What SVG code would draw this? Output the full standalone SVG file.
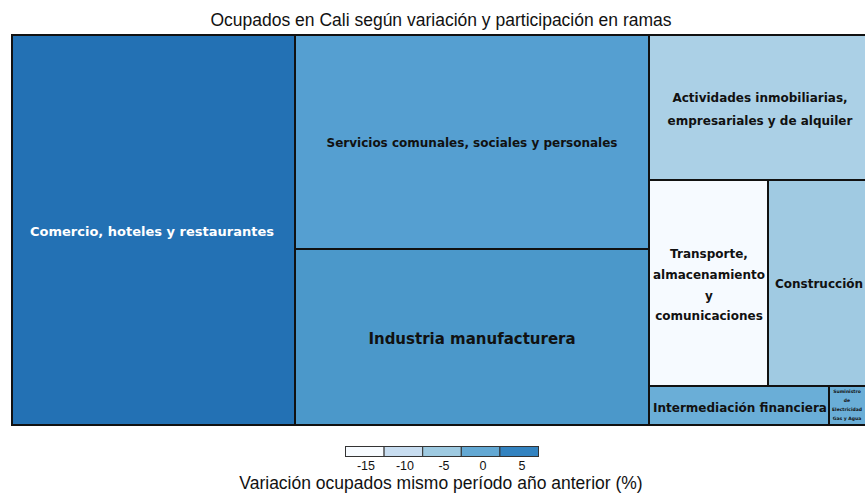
<svg xmlns="http://www.w3.org/2000/svg" width="865" height="494" viewBox="0 0 865 494">
<style>
.cell{stroke:#111;stroke-width:2}
.lb{font-family:"DejaVu Sans",Verdana,sans-serif;font-weight:bold;text-anchor:middle;fill:#111}
.tx{font-family:"Liberation Sans",Arial,sans-serif;text-anchor:middle;fill:#111}
.leg{stroke:#333;stroke-width:1}
</style>
<rect width="865" height="494" fill="#fff"/>
<text class="tx" x="441" y="26" font-size="17.5">Ocupados en Cali según variación y participación en ramas</text>
<g id="comercio">
<rect class="cell" x="12" y="35" width="283" height="390" fill="#2371b4"/>
<text class="lb" x="152" y="236" font-size="13" style="fill:#fff">Comercio, hoteles y restaurantes</text>
</g>
<g id="servicios">
<rect class="cell" x="295" y="35" width="354" height="214" fill="#559fd1"/>
<text class="lb" x="472" y="147" font-size="12">Servicios comunales, sociales y personales</text>
</g>
<g id="industria">
<rect class="cell" x="295" y="249" width="354" height="176" fill="#4b98ca"/>
<text class="lb" x="472" y="344" font-size="15">Industria manufacturera</text>
</g>
<g id="actividades">
<rect class="cell" x="649" y="35" width="220" height="145" fill="#abd0e6"/>
<text class="lb" x="760" y="102" font-size="12">Actividades inmobiliarias,</text>
<text class="lb" x="760" y="125" font-size="12">empresariales y de alquiler</text>
</g>
<g id="transporte">
<rect class="cell" x="649" y="180" width="119" height="206" fill="#f6faff"/>
<text class="lb" x="709" y="258" font-size="12">Transporte,</text>
<text class="lb" x="709" y="279" font-size="12">almacenamiento</text>
<text class="lb" x="709" y="300" font-size="12">y</text>
<text class="lb" x="709" y="320" font-size="12">comunicaciones</text>
</g>
<g id="construccion">
<rect class="cell" x="768" y="180" width="101" height="206" fill="#a0cae2"/>
<text class="lb" x="819" y="288" font-size="12">Construcción</text>
</g>
<g id="intermediacion">
<rect class="cell" x="649" y="386" width="180" height="39" fill="#6aaed7"/>
<text class="lb" x="740" y="412" font-size="12">Intermediación financiera</text>
</g>
<g id="suministro">
<rect class="cell" x="829" y="386" width="40" height="39" fill="#6aaed7"/>
<text class="lb" x="847" y="393" font-size="4.5">Suministro</text>
<text class="lb" x="847" y="402" font-size="4.5">de</text>
<text class="lb" x="847" y="411" font-size="4.5">Electricidad</text>
<text class="lb" x="847" y="420" font-size="4.5">Gas y Agua</text>
</g>
<g id="connectors"></g>
<g id="legend">
<rect class="leg" x="345.5" y="446.5" width="38.6" height="10" fill="#f7fbff"/>
<rect class="leg" x="384.1" y="446.5" width="38.6" height="10" fill="#c8ddf0"/>
<rect class="leg" x="422.7" y="446.5" width="38.6" height="10" fill="#9ecae1"/>
<rect class="leg" x="461.3" y="446.5" width="38.6" height="10" fill="#63a8d3"/>
<rect class="leg" x="499.9" y="446.5" width="38.6" height="10" fill="#3383c0"/>
<text class="tx" x="366" y="470" font-size="12.5">-15</text>
<text class="tx" x="405" y="470" font-size="12.5">-10</text>
<text class="tx" x="444" y="470" font-size="12.5">-5</text>
<text class="tx" x="483" y="470" font-size="12.5">0</text>
<text class="tx" x="522" y="470" font-size="12.5">5</text>
<text class="tx" x="441" y="489" font-size="17.5">Variación ocupados mismo período año anterior (%)</text>
</g>
</svg>
